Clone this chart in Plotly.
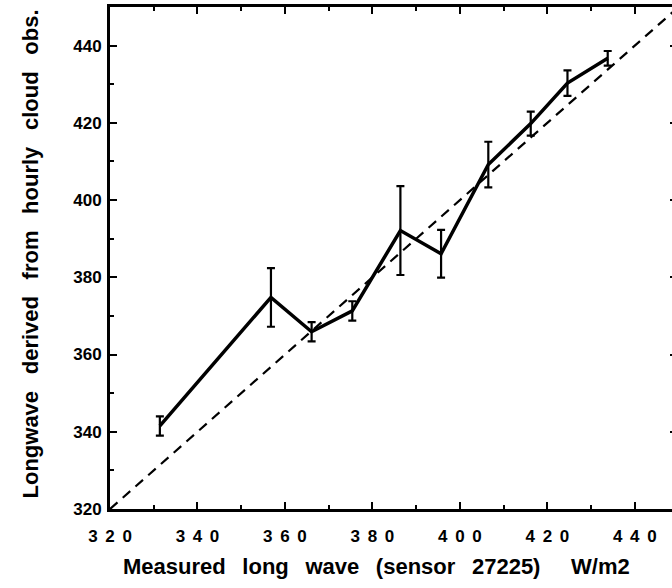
import plotly.graph_objects as go

# Data
measured = [331.4, 356.8, 366.1, 375.4, 386.4, 395.7, 406.5, 416.2, 424.6, 433.8]
derived = [341.5, 374.8, 365.9, 371.3, 392.1, 386.1, 409.2, 419.8, 430.3, 436.7]
derived_err = [2.5, 7.6, 2.5, 2.5, 11.5, 6.2, 5.9, 3.1, 3.3, 1.9]
identity = [320, 450]

TS = "\u2005\u2009"
x_tickvals = [320, 340, 360, 380, 400, 420, 440]
x_ticktext = [TS.join(str(v)) for v in x_tickvals]
y_tickvals = [320, 340, 360, 380, 400, 420, 440]

GAP = "\u00a0\u00a0\u2009"
x_title = GAP.join(["Measured", "long", "wave", "(sensor", "27225)"]) + "\u00a0" * 5 + "W/m2"
y_title = GAP.join(["Longwave", "derived", "from", "hourly", "cloud", "obs."])

FONT = "Liberation Sans, Arial, sans-serif"

fig = go.Figure()
fig.add_trace(go.Scatter(
    x=identity, y=identity, mode="lines",
    line=dict(color="black", width=2.2, dash="10px,7px"),
    showlegend=False, hoverinfo="skip"))
fig.add_trace(go.Scatter(
    x=measured, y=derived, mode="lines",
    line=dict(color="black", width=3.5),
    error_y=dict(type="data", array=derived_err, visible=True,
                 color="black", thickness=2.2, width=4),
    showlegend=False))
# invisible trace to carry the right-hand tick marks
fig.add_trace(go.Scatter(x=identity, y=identity, yaxis="y2", mode="lines",
                         line=dict(width=0), showlegend=False, hoverinfo="skip"))

fig.update_layout(
    width=672, height=588,
    margin=dict(l=110, r=0, t=7, b=79),
    paper_bgcolor="white", plot_bgcolor="white",
    font=dict(family=FONT, color="black", size=17, weight="bold"),
    xaxis=dict(range=[320, 448.5], tickvals=x_tickvals, ticktext=x_ticktext,
               showgrid=False, zeroline=False,
               showline=True, linecolor="black", linewidth=3, mirror="ticks",
               ticks="inside", ticklen=7, tickwidth=2, tickcolor="black",
               ticklabelstandoff=10,
               minor=dict(ticks="inside", ticklen=4, tickwidth=2, dtick=10,
                          tickcolor="black", showgrid=False),
               tickfont=dict(family=FONT, size=17, weight="bold")),
    yaxis=dict(range=[320, 450], tickvals=y_tickvals,
               showgrid=False, zeroline=False,
               showline=True, linecolor="black", linewidth=3,
               ticks="inside", ticklen=7, tickwidth=2, tickcolor="black",
               ticklabelstandoff=2,
               minor=dict(ticks="inside", ticklen=4, tickwidth=2, dtick=10,
                          tickcolor="black", showgrid=False),
               tickfont=dict(family=FONT, size=17, weight="bold")),
    yaxis2=dict(range=[320, 450], overlaying="y", side="right",
                tickvals=y_tickvals, showticklabels=False, showline=False,
                showgrid=False, zeroline=False,
                ticks="inside", ticklen=2, tickwidth=2, tickcolor="black"),
    annotations=[
        dict(text=x_title, xref="paper", yref="paper", x=0.474, y=0,
             xanchor="center", yanchor="middle", yshift=-57, showarrow=False,
             font=dict(family=FONT, size=22, weight="bold", color="black")),
        dict(text=y_title, xref="paper", yref="paper", x=0, y=0.507,
             xanchor="center", yanchor="middle", xshift=-80, textangle=-90,
             showarrow=False,
             font=dict(family=FONT, size=22, weight="bold", color="black")),
    ],
)

fig.write_html("out.html")
